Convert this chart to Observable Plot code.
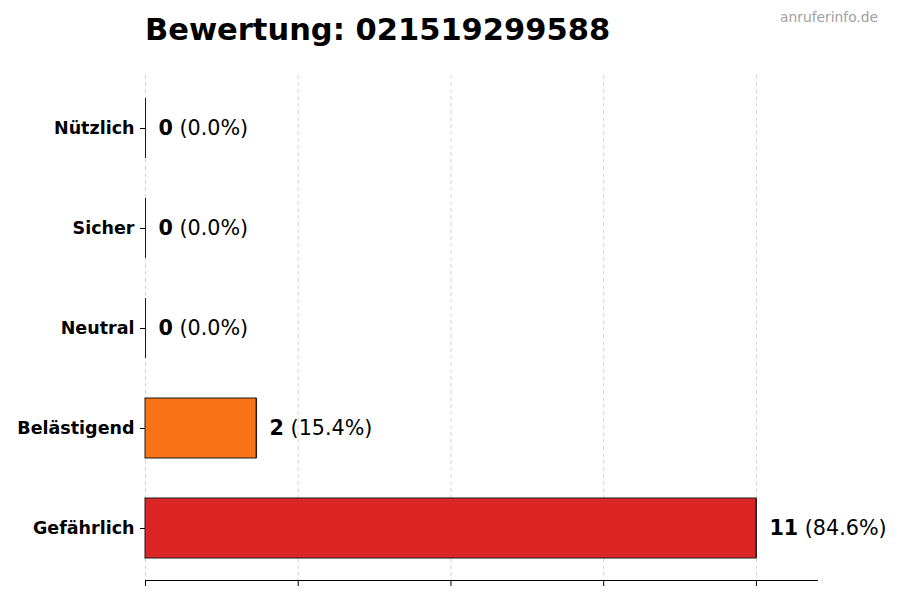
<!DOCTYPE html>
<html>
<head>
<meta charset="utf-8">
<script src="https://cdn.jsdelivr.net/npm/d3@7"></script>
<script src="https://cdn.jsdelivr.net/npm/@observablehq/plot@0.6"></script>
<style>
  body { margin: 0; background: #fff; font-family: "DejaVu Sans", sans-serif; }
  #wrap { position: relative; width: 900px; height: 600px; overflow: hidden; }
  #title { position: absolute; left: 145px; top: 12px; font-size: 30.5px; line-height: 36px; font-weight: bold; color: #000; white-space: nowrap; }
  #mark { position: absolute; right: 22px; top: 9px; font-size: 13.8px; color: #a0a0a0; }
  #chart { position: absolute; left: 0; top: 60px; }
</style>
</head>
<body>
<div id="wrap">
  <div id="title">Bewertung: 021519299588</div>
  <div id="mark">anruferinfo.de</div>
  <div id="chart"></div>
</div>
<script>
const categories = ["Nützlich", "Sicher", "Neutral", "Belästigend", "Gefährlich"];
const counts = [0, 0, 0, 2, 11];
const percents = ["0.0%", "0.0%", "0.0%", "15.4%", "84.6%"];
const colors = ["#22C55E", "#3B82F6", "#9CA3AF", "#F97316", "#DC2626"];
const gridTicks = [0, 2.75, 5.5, 8.25, 11];
const xMax = 12.1;

const data = categories.map((c, i) => ({cat: c, count: counts[i], pct: percents[i], color: colors[i]}));

const plot = Plot.plot({
  width: 900,
  height: 540,
  marginLeft: 145,
  marginRight: 83,
  marginTop: 15,
  marginBottom: 20,
  style: {fontFamily: "DejaVu Sans, sans-serif", background: "#fff"},
  x: {domain: [0, xMax]},
  y: {domain: categories, paddingInner: 0.4, paddingOuter: 0.225},
  marks: [
    Plot.ruleX(gridTicks, {stroke: "#cccccc", strokeWidth: 0.8, strokeDasharray: "4,3"}),
    Plot.barX(data, {x: "count", y: "cat", fill: "color", stroke: "#1a1a1a", strokeWidth: 1}),
    Plot.tickX(data, {x: "count", y: "cat", stroke: "#1a1a1a", strokeWidth: 1}),
    Plot.frame({anchor: "bottom", stroke: "#000", strokeWidth: 1}),
    Plot.axisX({ticks: gridTicks, tickFormat: () => "", tickSize: 6, stroke: "#000", label: null}),
    Plot.axisY({tickSize: 5, tickPadding: 6, fontSize: 17.5, fontWeight: "bold", fill: "#000", stroke: "#000", label: null}),
    Plot.text(data, {
      x: "count", y: "cat", text: d => String(d.count), dx: 13, textAnchor: "start",
      fontWeight: "bold", fontSize: 20.7, fill: "#000",
      render: (index, scales, values, dims, ctx, next) => {
        const g = next(index, scales, values, dims, ctx);
        const nodes = g.querySelectorAll("text");
        nodes.forEach((t, k) => {
          const d = data[index[k]];
          const ts = document.createElementNS("http://www.w3.org/2000/svg", "tspan");
          ts.setAttribute("font-weight", "normal");
          ts.textContent = " (" + d.pct + ")";
          t.appendChild(ts);
        });
        return g;
      }
    })
  ]
});
document.getElementById("chart").appendChild(plot);
</script>
</body>
</html>
